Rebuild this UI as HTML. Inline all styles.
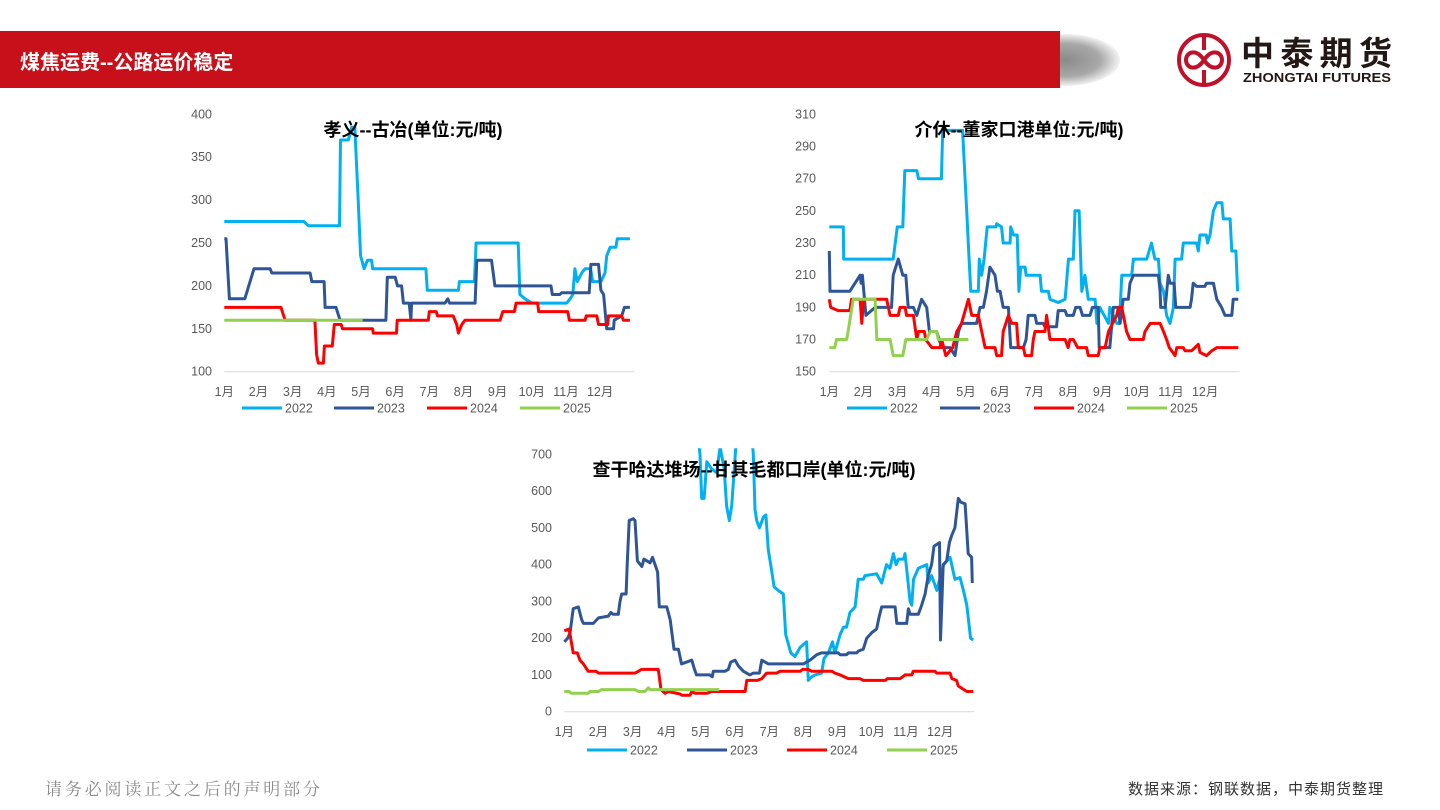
<!DOCTYPE html>
<html><head><meta charset="utf-8"><style>
body{margin:0;width:1440px;height:810px;background:#fff;overflow:hidden;font-family:"Liberation Sans","Noto Sans CJK SC",sans-serif;position:relative}
.hdr{position:absolute;left:0;top:31px;width:1060px;height:57px;background:#c8101a}
.hdr span{position:absolute;left:20px;top:15px;color:#fff;font-size:20px;font-weight:bold}
.shadow{position:absolute;left:1010px;top:34px;width:110px;height:52px;border-radius:50%;background:radial-gradient(ellipse at center,#8a8a8a 0%,#a8a8a8 45%,rgba(255,255,255,0) 75%)}
</style></head><body>
<div class="shadow"></div>
<div class="hdr"><span>煤焦运费--公路运价稳定</span></div>
<svg width="1440" height="810" style="position:absolute;left:0;top:0" id="svg">
<g>
<circle cx="1204" cy="60" r="25" fill="none" stroke="#c0112b" stroke-width="4"/>
<path d="M1204 37 L1204 50 M1204 70 L1204 83" stroke="#c0112b" stroke-width="4"/>
<path d="M1204 60 C1196 48,1186 52,1186 60 C1186 68,1196 72,1204 60 C1212 48,1222 52,1222 60 C1222 68,1212 72,1204 60" fill="none" stroke="#c0112b" stroke-width="4"/>
<text x="1241" y="65" font-size="33" font-weight="bold" fill="#231815" textLength="151" lengthAdjust="spacing" font-family="'Noto Sans CJK SC',sans-serif">中泰期货</text>
<text x="1243" y="82" font-size="13" font-weight="bold" fill="#231815" textLength="148" lengthAdjust="spacingAndGlyphs">ZHONGTAI FUTURES</text>
</g>
<text x="45" y="795" font-size="17" fill="#8c8c8c" textLength="275" lengthAdjust="spacing" font-family="'Noto Serif CJK SC',serif">请务必阅读正文之后的声明部分</text>
<text x="1128" y="794" font-size="15" fill="#333" textLength="255" lengthAdjust="spacing" font-family="'Noto Sans CJK SC',sans-serif">数据来源：钢联数据，中泰期货整理</text>
</svg>
<script>
const months=["1月","2月","3月","4月","5月","6月","7月","8月","9月","10月","11月","12月"];
const years=["2022","2023","2024","2025"];
const colors=["#00b0f0","#2f5597","#ff0000","#92d050"];
const c1Ticks=[100,150,200,250,300,350,400];
const c2Ticks=[150,170,190,210,230,250,270,290,310];
const c3Ticks=[0,100,200,300,400,500,600,700];
const c1_2022=[[0,275],[2.33,275],[2.46,270],[3.37,270],[3.4,370],[3.63,370],[3.73,385],[3.82,385],[3.92,300],[3.99,235],[4.09,220],[4.19,230],[4.31,230],[4.34,220],[5.9,220],[5.94,195],[6.85,195],[6.88,205],[7.32,205],[7.37,250],[8.6,250],[8.65,190],[8.8,185],[9.0,180],[10.02,180],[10.12,185],[10.2,190],[10.26,220],[10.33,205],[10.46,215],[10.56,220],[10.72,220],[10.78,205],[11.02,205],[11.14,215],[11.19,235],[11.29,245],[11.46,245],[11.5,255],[11.87,255]];
const c1_2023=[[0,255],[0.05,255],[0.15,185],[0.6,185],[0.87,220],[1.34,220],[1.39,215],[2.51,215],[2.56,205],[2.92,205],[2.95,175],[3.27,175],[3.39,160],[4.73,160],[4.77,210],[5.0,210],[5.07,200],[5.19,200],[5.24,180],[5.41,180],[5.46,160],[5.48,180],[6.46,180],[6.54,185],[6.59,180],[7.34,180],[7.39,230],[7.82,230],[7.92,200],[9.56,200],[9.6,190],[9.82,190],[9.87,192],[10.68,192],[10.73,225],[10.95,225],[11.02,195],[11.1,190],[11.19,150],[11.39,150],[11.41,160],[11.63,165],[11.71,175],[11.87,175]];
const c1_2024=[[0,175],[1.66,175],[1.78,160],[2.65,160],[2.7,120],[2.75,110],[2.9,110],[2.93,130],[3.16,130],[3.22,155],[3.42,155],[3.46,150],[4.34,150],[4.36,145],[5.04,145],[5.06,160],[5.97,160],[6.0,170],[6.2,170],[6.24,165],[6.7,165],[6.8,155],[6.85,145],[6.95,155],[7.04,160],[8.07,160],[8.15,170],[8.49,170],[8.54,180],[9.17,180],[9.2,170],[10.05,170],[10.1,160],[10.56,160],[10.59,165],[10.9,165],[10.95,155],[11.22,155],[11.24,165],[11.63,165],[11.68,160],[11.87,160]];
const c1_2025=[[0,160],[4.05,160]];
const c2_2022=[[0,240],[0.41,240],[0.42,220],[1.87,220],[1.99,240],[2.15,240],[2.21,275],[2.56,275],[2.61,270],[3.28,270],[3.32,300],[3.9,300],[4.02,250],[4.09,220],[4.14,200],[4.36,200],[4.39,220],[4.46,210],[4.53,220],[4.62,240],[4.88,240],[4.9,242],[5.04,240],[5.09,230],[5.29,230],[5.31,240],[5.39,235],[5.5,235],[5.55,200],[5.6,215],[5.73,215],[5.76,210],[6.17,210],[6.21,200],[6.41,200],[6.46,195],[6.7,193],[6.9,195],[7.0,220],[7.14,220],[7.19,250],[7.31,250],[7.39,200],[7.48,210],[7.58,195],[7.78,195],[7.83,180],[7.92,190],[8.17,180],[8.21,190],[8.41,180],[8.49,180],[8.56,210],[8.85,210],[8.9,220],[9.29,220],[9.43,230],[9.53,220],[9.63,220],[9.68,205],[9.78,200],[9.87,185],[9.97,180],[10.07,190],[10.12,220],[10.31,220],[10.36,230],[10.75,230],[10.8,225],[10.85,235],[11.03,235],[11.07,230],[11.14,235],[11.24,250],[11.34,255],[11.49,255],[11.53,245],[11.73,245],[11.78,225],[11.9,225],[11.95,200]];
const c2_2023=[[0,225],[0.02,200],[0.6,200],[0.9,210],[0.93,205],[0.97,210],[1.07,185],[1.34,190],[1.82,190],[1.87,210],[2.02,220],[2.15,210],[2.24,210],[2.31,190],[2.46,190],[2.56,185],[2.7,195],[2.85,190],[2.93,175],[3.14,175],[3.29,165],[3.53,165],[3.68,160],[3.78,175],[3.87,180],[4.31,180],[4.41,190],[4.51,190],[4.6,200],[4.7,215],[4.85,210],[4.92,200],[5.0,200],[5.09,190],[5.24,190],[5.31,165],[5.68,165],[5.76,170],[5.82,185],[6.02,185],[6.07,180],[6.26,180],[6.31,178],[6.65,178],[6.7,188],[6.9,188],[6.95,185],[7.14,185],[7.21,190],[7.34,190],[7.41,185],[7.63,185],[7.7,190],[7.87,190],[7.9,165],[8.21,165],[8.31,190],[8.46,190],[8.51,180],[8.6,195],[8.75,195],[8.8,205],[8.9,210],[9.63,210],[9.68,200],[9.7,190],[9.83,190],[9.92,210],[9.97,205],[10.09,205],[10.14,190],[10.56,190],[10.6,195],[10.65,205],[10.75,203],[10.99,203],[11.04,205],[11.24,205],[11.34,195],[11.48,190],[11.58,185],[11.78,185],[11.82,195],[11.97,195]];
const c2_2024=[[0,195],[0.04,190],[0.26,188],[0.6,188],[0.65,195],[0.9,195],[0.95,180],[1.0,195],[1.68,195],[1.73,190],[1.78,185],[2.02,185],[2.07,190],[2.22,190],[2.26,185],[2.46,185],[2.56,170],[2.61,175],[2.78,175],[2.82,170],[3.0,165],[3.24,165],[3.29,170],[3.41,160],[3.61,165],[3.73,175],[3.87,180],[4.07,195],[4.17,185],[4.36,185],[4.46,175],[4.56,165],[4.85,165],[4.9,160],[5.04,160],[5.09,175],[5.24,185],[5.34,180],[5.48,180],[5.53,165],[5.68,165],[5.73,160],[5.92,160],[5.97,170],[6.02,175],[6.31,175],[6.36,185],[6.46,170],[6.9,170],[6.99,165],[7.04,170],[7.14,170],[7.27,165],[7.53,165],[7.58,160],[7.87,160],[7.92,165],[8.07,165],[8.17,175],[8.41,185],[8.46,190],[8.56,190],[8.7,175],[8.8,170],[9.19,170],[9.24,175],[9.39,180],[9.68,180],[9.78,175],[9.87,170],[9.95,165],[10.12,160],[10.17,165],[10.36,165],[10.41,163],[10.6,163],[10.7,165],[10.8,167],[10.85,162],[11.04,160],[11.19,163],[11.34,165],[11.97,165]];
const c2_2025=[[0,165],[0.16,165],[0.21,170],[0.51,170],[0.55,175],[0.7,195],[1.34,195],[1.39,170],[1.78,170],[1.87,160],[2.15,160],[2.24,170],[2.85,170],[2.95,175],[3.14,175],[3.19,170],[4.07,170]];
const c3_2022=[[3.85,800],[3.97,700],[4.02,580],[4.09,580],[4.17,680],[4.31,660],[4.46,650],[4.56,720],[4.68,660],[4.75,560],[4.83,520],[4.9,560],[5.02,720],[5.1,800],[5.45,800],[5.53,700],[5.58,550],[5.63,520],[5.71,500],[5.83,530],[5.9,535],[5.97,440],[6.04,400],[6.14,340],[6.26,330],[6.41,320],[6.48,210],[6.63,160],[6.75,150],[6.9,175],[7.09,190],[7.14,85],[7.24,95],[7.34,100],[7.53,105],[7.6,145],[7.73,160],[7.85,190],[7.92,160],[8.07,210],[8.17,230],[8.26,230],[8.36,270],[8.51,285],[8.6,360],[8.75,360],[8.8,370],[9.14,375],[9.29,350],[9.43,400],[9.53,390],[9.63,430],[9.71,400],[9.78,415],[9.93,415],[9.97,430],[10.12,300],[10.17,290],[10.22,360],[10.36,390],[10.61,400],[10.65,350],[10.75,370],[10.9,330],[11.1,400],[11.29,420],[11.43,360],[11.58,365],[11.68,330],[11.78,290],[11.89,200],[11.97,195]];
const c3_2023=[[0,190],[0.1,200],[0.17,215],[0.26,280],[0.41,285],[0.51,250],[0.56,240],[0.85,240],[1.0,255],[1.29,260],[1.36,270],[1.43,265],[1.58,265],[1.63,300],[1.68,320],[1.81,320],[1.84,400],[1.9,520],[2.02,525],[2.07,520],[2.14,410],[2.27,395],[2.33,415],[2.51,405],[2.58,420],[2.73,380],[2.78,285],[3.0,285],[3.1,250],[3.21,170],[3.34,170],[3.43,130],[3.58,135],[3.73,140],[3.81,115],[3.87,100],[4.26,100],[4.33,95],[4.36,110],[4.7,110],[4.8,115],[4.87,135],[5.0,140],[5.09,125],[5.24,110],[5.43,100],[5.53,105],[5.71,105],[5.78,140],[5.97,130],[7.0,130],[7.09,135],[7.19,140],[7.39,155],[7.53,160],[8.02,160],[8.07,155],[8.26,155],[8.31,160],[8.56,160],[8.61,165],[8.75,170],[8.85,200],[9.0,215],[9.14,225],[9.22,260],[9.29,285],[9.68,285],[9.73,240],[10.02,240],[10.07,280],[10.12,265],[10.36,265],[10.46,290],[10.56,320],[10.65,370],[10.75,400],[10.82,450],[10.98,460],[11.01,195],[11.09,400],[11.19,410],[11.27,460],[11.34,480],[11.43,500],[11.53,580],[11.6,570],[11.73,565],[11.82,430],[11.92,420],[11.94,350]];
const c3_2024=[[0,220],[0.14,225],[0.26,160],[0.38,160],[0.46,140],[0.56,130],[0.7,110],[0.93,110],[1.0,105],[2.07,105],[2.17,110],[2.26,115],[2.75,115],[2.83,60],[2.95,50],[3.04,55],[3.39,48],[3.44,45],[3.68,45],[3.73,55],[3.83,50],[4.17,50],[4.31,55],[5.29,55],[5.34,85],[5.65,85],[5.78,90],[5.92,105],[6.22,105],[6.31,110],[6.9,110],[6.98,115],[7.14,115],[7.24,110],[7.83,110],[7.92,105],[8.07,100],[8.31,90],[8.65,90],[8.75,85],[9.39,85],[9.46,90],[9.83,90],[9.97,100],[10.17,100],[10.21,110],[10.85,110],[10.9,105],[11.29,105],[11.34,90],[11.48,85],[11.53,70],[11.78,55],[11.97,55]];
const c3_2025=[[0,55],[0.14,55],[0.2,50],[0.7,50],[0.75,55],[1.0,55],[1.09,60],[2.07,60],[2.17,55],[2.36,55],[2.46,65],[2.51,60],[4.54,60]];

const NS="http://www.w3.org/2000/svg";
const svg=document.getElementById('svg');
function mk(tag,attrs,parent){const e=document.createElementNS(NS,tag);for(const k in attrs)e.setAttribute(k,attrs[k]);(parent||svg).appendChild(e);return e;}
function drawChart(id,cfg,series){
  const g=mk('g',{});
  
  
  const xS=m=>cfg.x0+m*cfg.pm;
  const yS=v=>cfg.yb+(v-cfg.vmin)/(cfg.vmax-cfg.vmin)*(cfg.yt-cfg.yb);
  const base=mk('line',{x1:cfg.x0,x2:cfg.x0+12*cfg.pm,y1:yS(cfg.vmin),y2:yS(cfg.vmin),stroke:'#d9d9d9','stroke-width':1},g);
  
  
  cfg.ticks.forEach(t=>{const e=mk('text',{x:cfg.lx,y:yS(t)+4,'text-anchor':'end','font-size':12.5,fill:'#595959'},g);e.textContent=t;
    
    });
  months.forEach((m,i)=>{const e=mk('text',{x:xS(i),y:cfg.my,'text-anchor':'middle','font-size':12.5,fill:'#595959','font-family':"'Liberation Sans','Noto Sans CJK SC',sans-serif"},g);e.textContent=m;
    
    });
  const cp=mk('clipPath',{id:'cp'+id},g);
  mk('rect',{x:cfg.x0-5,y:cfg.yt-6,width:12*cfg.pm+20,height:cfg.yb-cfg.yt+12},cp);
  series.forEach((s,i)=>{
    const p=mk('polyline',{points:s.map(d=>xS(d[0]).toFixed(1)+','+yS(d[1]).toFixed(1)).join(' '),fill:'none',stroke:colors[i],'stroke-width':3,'stroke-linejoin':'round','clip-path':'url(#cp'+id+')'},g);
    
    
  });
  years.forEach((y,i)=>{
    const lx=cfg.legX[i];
    const l=mk('line',{x1:lx,x2:lx+40,y1:cfg.legY,y2:cfg.legY,stroke:colors[i],'stroke-width':3},g);
    
    
    const t=mk('text',{x:lx+43,y:cfg.legY+4.5,'font-size':12.5,fill:'#595959'},g);t.textContent=y;
    
    
  });
  const ti=mk('text',{x:cfg.tx,y:cfg.ty,'text-anchor':'middle','font-size':18,'font-weight':'bold',fill:'#000','font-family':"'Liberation Sans','Noto Sans CJK SC',sans-serif"},g);
  ti.textContent=cfg.title;
  
  
}
drawChart('chart-xiaoyi-guye',{x0:224.3,pm:34.17,yt:114.3,yb:371.7,vmin:100,vmax:400,ticks:c1Ticks,lx:212,my:396,legY:408,legX:[242,334,427,520],tx:413,ty:136,title:'孝义--古冶(单位:元/吨)'},[c1_2022,c1_2023,c1_2024,c1_2025]);
drawChart('chart-jiexiu-dongjiakou',{x0:829.3,pm:34.17,yt:114.3,yb:371.7,vmin:150,vmax:310,ticks:c2Ticks,lx:816,my:396,legY:408,legX:[847,940,1034,1127],tx:1019,ty:136,title:'介休--董家口港单位:元/吨)'},[c2_2022,c2_2023,c2_2024,c2_2025]);
drawChart('chart-chagan-ganqimaodu',{x0:564.3,pm:34.17,yt:454.3,yb:711.7,vmin:0,vmax:700,ticks:c3Ticks,lx:552,my:736,legY:750,legX:[587,687,787,887],tx:754,ty:476,title:'查干哈达堆场--甘其毛都口岸(单位:元/吨)'},[c3_2022,c3_2023,c3_2024,c3_2025]);
</script>
</body></html>
